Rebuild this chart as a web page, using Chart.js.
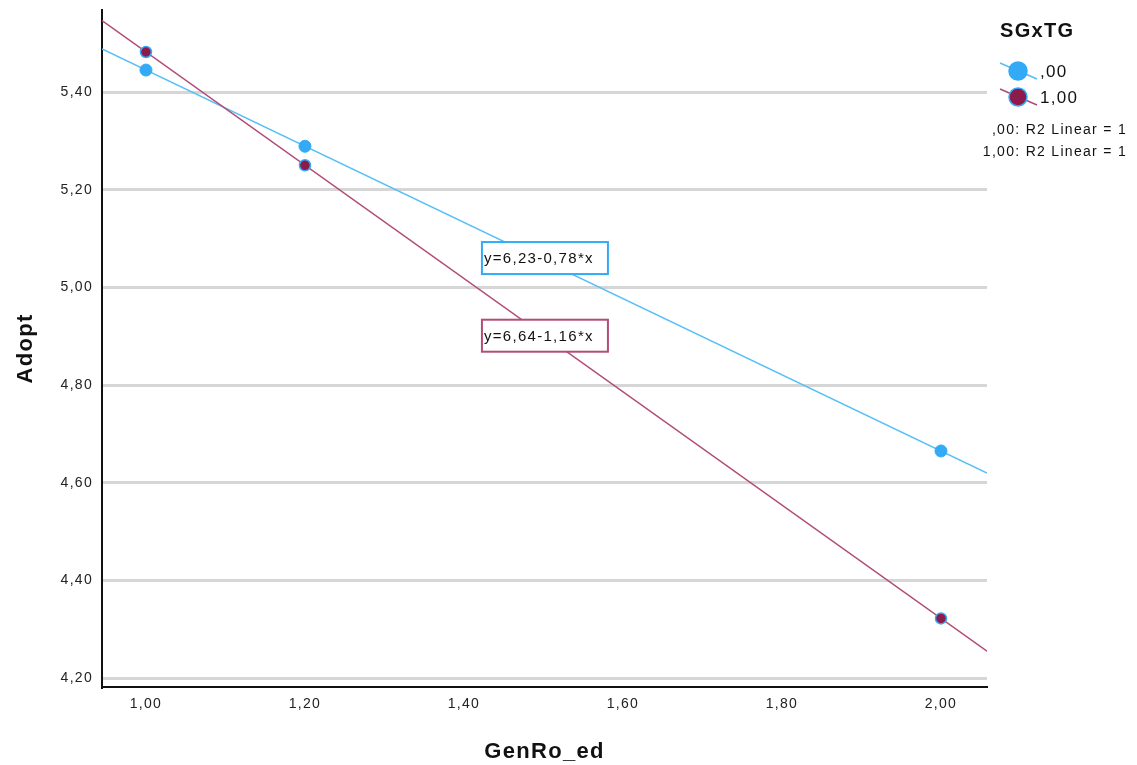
<!DOCTYPE html>
<html>
<head>
<meta charset="utf-8">
<title>Adopt by GenRo_ed</title>
<script src="https://cdn.jsdelivr.net/npm/chart.js@4.4.1/dist/chart.umd.min.js"></script>
<style>
  html, body { margin: 0; padding: 0; background: #fff; }
  #wrap { width: 1137px; height: 765px; position: relative; }
</style>
</head>
<body>
<div id="wrap"><canvas id="adopt-chart"></canvas></div>
<script>
const groups = [',00', '1,00'];
const genRo = [1.0, 1.2, 2.0];
const adopt00 = [5.445, 5.289, 4.665];
const adopt10 = [5.482, 5.250, 4.322];
const fitLabels = ['y=6,23-0,78*x', 'y=6,64-1,16*x'];
const r2Labels = [',00: R2 Linear = 1', '1,00: R2 Linear = 1'];
const xTicks = [1.0, 1.2, 1.4, 1.6, 1.8, 2.0];
const yTicks = [4.2, 4.4, 4.6, 4.8, 5.0, 5.2, 5.4];

const X_MIN = 0.9447, X_MAX = 2.0579;
const Y_MIN = 4.1816, Y_MAX = 5.568;

const blue = '#33aaf5';
const blueLine = '#55bff6';
const maroon = '#8c1a4b';
const maroonLine = '#b24c78';
const FONT = '"Liberation Sans", Arial, sans-serif';

const comma = v => v.toFixed(2).replace('.', ',');

// least squares line through the points, stretched over the whole x range
function fitLine(xs, ys) {
  const n = xs.length;
  const mx = xs.reduce((a, b) => a + b, 0) / n;
  const my = ys.reduce((a, b) => a + b, 0) / n;
  let sxy = 0, sxx = 0;
  for (let i = 0; i < n; i++) {
    sxy += (xs[i] - mx) * (ys[i] - my);
    sxx += (xs[i] - mx) * (xs[i] - mx);
  }
  const b = sxy / sxx, a = my - b * mx;
  return [{ x: X_MIN, y: a + b * X_MIN }, { x: X_MAX, y: a + b * X_MAX }];
}

const pts = ys => genRo.map((x, i) => ({ x: x, y: ys[i] }));

// slightly loose text, like the old GDI output
const spacing = {
  id: 'spacing',
  beforeUpdate(chart) { chart.ctx.letterSpacing = '1.3px'; },
  beforeDraw(chart) { chart.ctx.letterSpacing = '1.3px'; }
};

const annotations = {
  id: 'annotations',
  afterDraw(chart) {
    const ctx = chart.ctx;
    const xs = chart.scales.x, ys = chart.scales.y;

    // equation boxes
    const boxes = [
      { x: 1.4226, y: 5.06, color: blue, text: fitLabels[0] },
      { x: 1.4226, y: 4.901, color: maroonLine, text: fitLabels[1] }
    ];
    ctx.save();
    ctx.font = '15px ' + FONT;
    ctx.textBaseline = 'middle';
    boxes.forEach(b => {
      const px = xs.getPixelForValue(b.x), py = ys.getPixelForValue(b.y);
      ctx.fillStyle = '#fff';
      ctx.fillRect(px, py - 16, 126, 32);
      ctx.strokeStyle = b.color;
      ctx.lineWidth = 2;
      ctx.strokeRect(px, py - 16, 126, 32);
      ctx.fillStyle = '#111';
      ctx.fillText(b.text, px + 2, py + 1);
    });

    // legend
    ctx.fillStyle = '#111';
    ctx.font = 'bold 20px ' + FONT;
    ctx.textAlign = 'left';
    ctx.fillText('SGxTG', 1000, 31);

    const items = [
      { y: 71, fill: blue, line: blueLine },
      { y: 97, fill: maroon, line: maroonLine }
    ];
    items.forEach((it, i) => {
      ctx.strokeStyle = it.line;
      ctx.lineWidth = 1.5;
      ctx.beginPath();
      ctx.moveTo(1000, it.y - 8);
      ctx.lineTo(1037, it.y + 8);
      ctx.stroke();
      ctx.beginPath();
      ctx.arc(1018, it.y, 9, 0, Math.PI * 2);
      ctx.fillStyle = it.fill;
      ctx.fill();
      ctx.strokeStyle = blue;
      ctx.lineWidth = 1.5;
      ctx.stroke();
      ctx.fillStyle = '#111';
      ctx.font = '17px ' + FONT;
      ctx.fillText(groups[i], 1040, it.y + 1);
    });

    ctx.font = '14px ' + FONT;
    ctx.textAlign = 'right';
    ctx.fillText(r2Labels[0], 1127, 130);
    ctx.fillText(r2Labels[1], 1127, 152);
    ctx.restore();
  }
};

new Chart(document.getElementById('adopt-chart'), {
  type: 'scatter',
  data: {
    datasets: [
      {
        label: groups[0],
        data: pts(adopt00),
        pointRadius: 6,
        pointBackgroundColor: blue,
        pointBorderColor: blue,
        pointBorderWidth: 1,
        showLine: false
      },
      {
        label: groups[1],
        data: pts(adopt10),
        pointRadius: 5.5,
        pointBackgroundColor: maroon,
        pointBorderColor: blue,
        pointBorderWidth: 1.5,
        showLine: false
      },
      {
        label: groups[1] + ' fit',
        data: fitLine(genRo, adopt10),
        showLine: true,
        borderColor: maroonLine,
        borderWidth: 1.5,
        pointRadius: 0
      },
      {
        label: groups[0] + ' fit',
        data: fitLine(genRo, adopt00),
        showLine: true,
        borderColor: blueLine,
        borderWidth: 1.5,
        pointRadius: 0
      }
    ]
  },
  options: {
    responsive: true,
    maintainAspectRatio: false,
    animation: false,
    layout: { padding: { top: 10, right: 150, left: 0, bottom: 0 } },
    plugins: {
      legend: { display: false },
      tooltip: { enabled: false }
    },
    scales: {
      x: {
        type: 'linear',
        min: X_MIN,
        max: X_MAX,
        afterBuildTicks: s => { s.ticks = xTicks.map(v => ({ value: v })); },
        afterFit: s => { s.height = 78; s.paddingLeft = 0; s.paddingRight = 0; },
        ticks: {
          callback: v => comma(v),
          color: '#222',
          padding: 9,
          maxRotation: 0,
          font: { family: FONT, size: 14 }
        },
        grid: { display: false, drawTicks: false },
        border: { display: true, color: '#111', width: 2 },
        title: {
          display: true,
          text: 'GenRo_ed',
          color: '#111',
          padding: { top: 5, bottom: 0 },
          font: { family: FONT, size: 22, weight: 'bold' }
        }
      },
      y: {
        type: 'linear',
        min: Y_MIN,
        max: Y_MAX,
        afterBuildTicks: s => { s.ticks = yTicks.map(v => ({ value: v })); },
        afterFit: s => { s.width = 102; s.paddingTop = 0; s.paddingBottom = 0; },
        ticks: {
          callback: v => comma(v),
          color: '#222',
          padding: 9,
          font: { family: FONT, size: 14 }
        },
        grid: { color: '#d6d6d6', lineWidth: 3, drawTicks: false },
        border: { display: true, color: '#111', width: 2 },
        title: {
          display: true,
          text: 'Adopt',
          color: '#111',
          padding: { top: 13, bottom: 0 },
          font: { family: FONT, size: 22, weight: 'bold' }
        }
      }
    }
  },
  plugins: [spacing, annotations]
});
</script>
</body>
</html>
